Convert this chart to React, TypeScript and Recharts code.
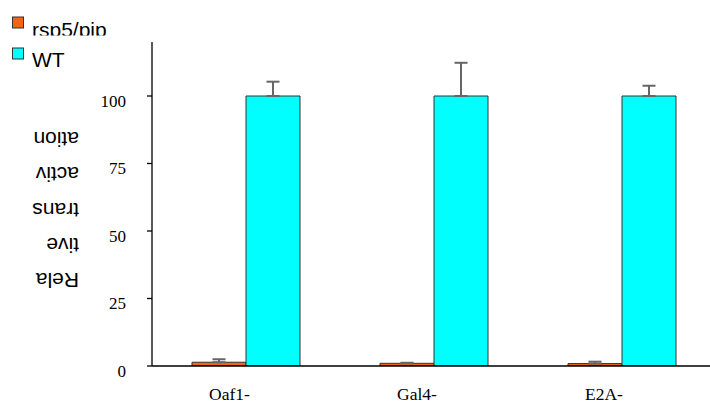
import React from 'react';
import { BarChart, Bar, XAxis, YAxis, ErrorBar, Customized } from 'recharts';

const categories = ['Oaf1-', 'Gal4-', 'E2A-'];
const rsp5Values = [1.4, 1.0, 0.9];
const rsp5Errors = [1.1, 0.2, 0.7];
const wtValues = [100, 100, 100];
const wtErrors = [5.3, 12.3, 3.8];
const yTicks = [0, 25, 50, 75, 100];
const yLabelLines = ['Rela', 'tive', 'trans', 'activ', 'ation'];
const seriesNames = ['rsp5/pip', 'WT'];
const seriesColors = ['#f26611', '#00ffff'];

const data = categories.map((c, i) => ({
  name: c,
  rsp5: rsp5Values[i],
  rsp5Err: [0, rsp5Errors[i]],
  wt: wtValues[i],
  wtErr: [0, wtErrors[i]],
}));

const SANS = '"Liberation Sans", Arial, sans-serif';
const SERIF = '"Liberation Serif", "Times New Roman", serif';

const YTick = (props: any) => {
  const { x, y, payload } = props;
  return (
    <text x={x} y={y + 10.7} textAnchor="end" fontFamily={SERIF} fontSize={17} fill="#000">
      {payload.value}
    </text>
  );
};

const XTick = (props: any) => {
  const { x, y, payload } = props;
  return (
    <text x={x - 37} y={y + 34} textAnchor="start" fontFamily={SERIF} fontSize={17.5} fill="#000">
      {payload.value}
    </text>
  );
};

const YLabel = () => (
  <g>
    {yLabelLines.map((t, i) => {
      const by = 265 - i * 35.25;
      return (
        <text
          key={t}
          x={71}
          y={by}
          textAnchor="start"
          fontFamily={SANS}
          fontSize={21}
          fill="#000"
          transform={`rotate(180 71 ${by})`}
        >
          {t}
        </text>
      );
    })}
  </g>
);

const LegendBox = () => (
  <g>
    <defs>
      <clipPath id="legclip0">
        <rect x={0} y={0} width={130} height={27.5} />
      </clipPath>
    </defs>
    {seriesNames.map((name, i) => {
      const sy = i === 0 ? 9 : 40;
      const by = i === 0 ? 28.5 : 59;
      return (
        <g key={name}>
          <rect x={4.5} y={sy} width={11} height={11} fill={seriesColors[i]} stroke="#333" strokeWidth={1} />
          <text
            x={24}
            y={by}
            fontFamily={SANS}
            fontSize={21}
            fill="#000"
            clipPath={i === 0 ? 'url(#legclip0)' : undefined}
          >
            {name}
          </text>
        </g>
      );
    })}
  </g>
);

export default function App() {
  return (
    <div
      style={{
        position: 'fixed',
        left: 8,
        top: 8,
        width: 702,
        height: 395,
        overflow: 'hidden',
        background: '#fff',
      }}
    >
      <BarChart
        width={720}
        height={400}
        data={data}
        margin={{ top: 34, right: 12, bottom: 0, left: 0 }}
        barGap={0}
        barSize={54}
      >
        <XAxis
          dataKey="name"
          tickLine={false}
          tickSize={0}
          tickMargin={0}
          height={42}
          axisLine={{ stroke: '#000', strokeWidth: 1.3 }}
          tick={<XTick />}
          interval={0}
        />
        <YAxis
          width={144}
          domain={[0, 120]}
          ticks={yTicks}
          tickSize={5}
          tickMargin={21}
          axisLine={{ stroke: '#000', strokeWidth: 1.3 }}
          tickLine={{ stroke: '#000', strokeWidth: 1.3 }}
          tick={<YTick />}
          allowDataOverflow
        />
        <Bar dataKey="rsp5" name={seriesNames[0]} fill={seriesColors[0]} stroke="#333" strokeWidth={1} isAnimationActive={false}>
          <ErrorBar dataKey="rsp5Err" width={6.5} stroke="#666" strokeWidth={2} direction="y" />
        </Bar>
        <Bar dataKey="wt" name={seriesNames[1]} fill={seriesColors[1]} stroke="#333" strokeWidth={1} isAnimationActive={false}>
          <ErrorBar dataKey="wtErr" width={6.5} stroke="#666" strokeWidth={2} direction="y" />
        </Bar>
        <Customized component={YLabel} />
        <Customized component={LegendBox} />
      </BarChart>
    </div>
  );
}
